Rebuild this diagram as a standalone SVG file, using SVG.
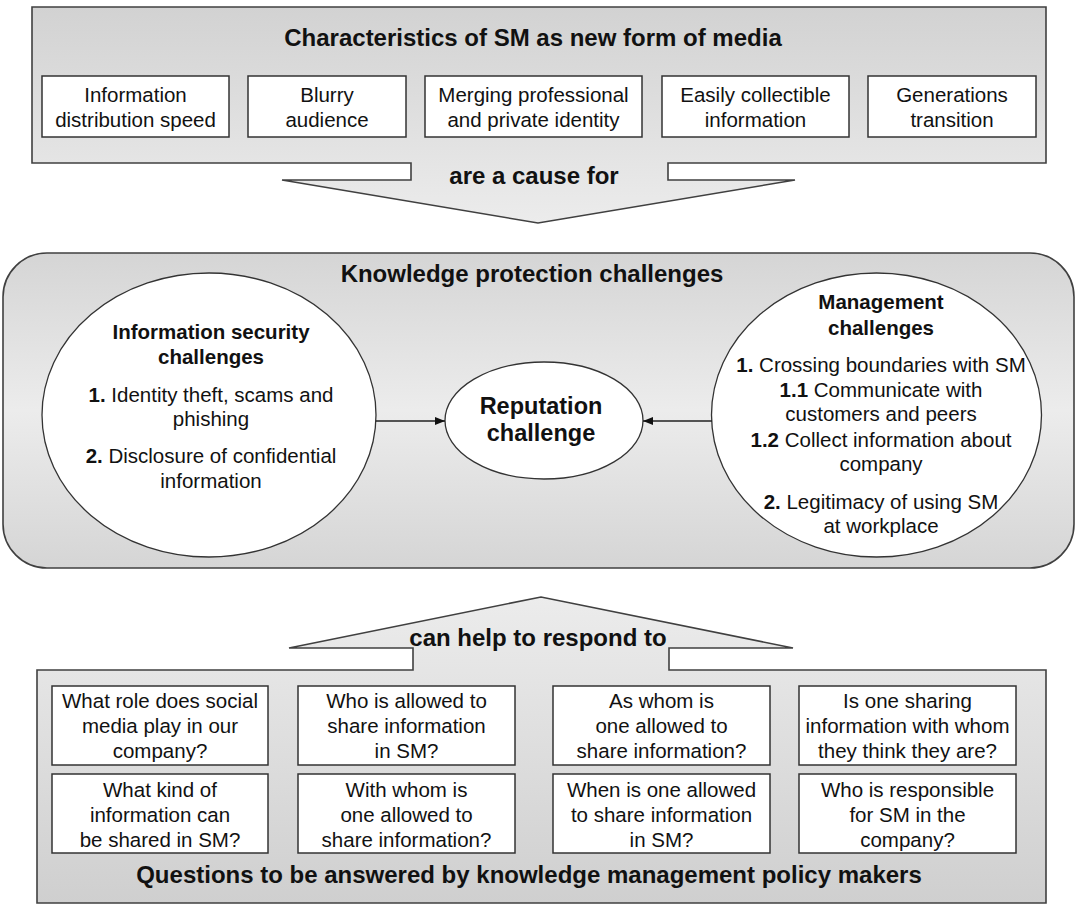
<svg xmlns="http://www.w3.org/2000/svg" width="1077" height="909" viewBox="0 0 1077 909">
<defs>
<linearGradient id="gTop" gradientUnits="userSpaceOnUse" x1="0" y1="7" x2="0" y2="223"><stop offset="0" stop-color="#d2d2d2"/><stop offset="1" stop-color="#ececec"/></linearGradient>
<linearGradient id="gMid" gradientUnits="userSpaceOnUse" x1="0" y1="253" x2="0" y2="568"><stop offset="0" stop-color="#d5d5d5"/><stop offset="0.5" stop-color="#ececec"/><stop offset="1" stop-color="#d5d5d5"/></linearGradient>
<linearGradient id="gBot" gradientUnits="userSpaceOnUse" x1="0" y1="597" x2="0" y2="903"><stop offset="0" stop-color="#ececec"/><stop offset="1" stop-color="#cfcfcf"/></linearGradient>
<marker id="ah" markerWidth="10" markerHeight="8" refX="10" refY="4" orient="auto" markerUnits="userSpaceOnUse"><path d="M0,0 L10,4 L0,8 Z" fill="#111"/></marker>
</defs>
<style>
.frame{stroke:#404040;stroke-width:1.6}
.box{fill:#fff;stroke:#333;stroke-width:1.5}
.ell{fill:#fff;stroke:#333;stroke-width:1.3}
text{font-family:"Liberation Sans",Arial,sans-serif;fill:#111;text-anchor:middle}
.t{font-size:20.5px}
.h{font-size:24px;font-weight:bold}
.hs{font-size:20.5px;font-weight:bold}
.rep{font-size:23.5px;font-weight:bold}
.b{font-weight:bold}
.conn{stroke:#222;stroke-width:1.4;fill:none}
</style>

<g id="characteristics">
<path class="frame" fill="url(#gTop)" d="M32,7 H1046 V163 H668 V180 H795 L538,223 L282,180 H411 V163 H32 Z"/>
<text class="h" x="533" y="46">Characteristics of SM as new form of media</text>
<text class="h" x="534" y="184">are a cause for</text>
</g>
<g id="c-speed"><rect class="box" x="42" y="76" width="187" height="61"/><text class="t" x="135.5" y="102">Information</text><text class="t" x="135.5" y="127">distribution speed</text></g>
<g id="c-audience"><rect class="box" x="248" y="76" width="158" height="61"/><text class="t" x="327" y="102">Blurry</text><text class="t" x="327" y="127">audience</text></g>
<g id="c-identity"><rect class="box" x="425" y="76" width="217" height="61"/><text class="t" x="533.5" y="102">Merging professional</text><text class="t" x="533.5" y="127">and private identity</text></g>
<g id="c-collectible"><rect class="box" x="662" y="76" width="187" height="61"/><text class="t" x="755.5" y="102">Easily collectible</text><text class="t" x="755.5" y="127">information</text></g>
<g id="c-generations"><rect class="box" x="868" y="76" width="168" height="61"/><text class="t" x="952" y="102">Generations</text><text class="t" x="952" y="127">transition</text></g>

<g id="knowledge-protection">
<rect class="frame" fill="url(#gMid)" x="3" y="253" width="1071" height="315" rx="44"/>
<text class="h" x="532" y="282">Knowledge protection challenges</text>
</g>
<g id="infosec">
<ellipse class="ell" cx="209" cy="415" rx="167" ry="142"/>
<text class="hs" x="211" y="339">Information security</text>
<text class="hs" x="211" y="364">challenges</text>
<text class="t" x="211" y="402"><tspan class="b">1.</tspan> Identity theft, scams and</text>
<text class="t" x="211" y="426">phishing</text>
<text class="t" x="211" y="463"><tspan class="b">2.</tspan> Disclosure of confidential</text>
<text class="t" x="211" y="488">information</text>
</g>
<g id="reputation">
<ellipse class="ell" cx="544" cy="420.5" rx="99" ry="58.5"/>
<text class="rep" x="541" y="414">Reputation</text>
<text class="rep" x="541" y="441">challenge</text>
</g>
<g id="management">
<ellipse class="ell" cx="876.5" cy="415" rx="165" ry="142"/>
<text class="hs" x="881" y="309">Management</text>
<text class="hs" x="881" y="335">challenges</text>
<text class="t" x="881" y="372"><tspan class="b">1.</tspan> Crossing boundaries with SM</text>
<text class="t" x="881" y="397"><tspan class="b">1.1</tspan> Communicate with</text>
<text class="t" x="881" y="421">customers and peers</text>
<text class="t" x="881" y="447"><tspan class="b">1.2</tspan> Collect information about</text>
<text class="t" x="881" y="471">company</text>
<text class="t" x="881" y="509"><tspan class="b">2.</tspan> Legitimacy of using SM</text>
<text class="t" x="881" y="533">at workplace</text>
</g>

<g id="connectors">
<line class="conn" x1="376" y1="421" x2="445" y2="421" marker-end="url(#ah)"/>
<line class="conn" x1="712" y1="421" x2="643" y2="421" marker-end="url(#ah)"/>
</g>

<g id="questions">
<path class="frame" fill="url(#gBot)" d="M37,670 H413 V648 H289 L541,597 L793,648 H669 V670 H1046 V903 H37 Z"/>
<text class="h" x="538" y="646">can help to respond to</text>
<text class="h" x="529" y="883">Questions to be answered by knowledge management policy makers</text>
</g>
<g id="q1"><rect class="box" x="52" y="686" width="216" height="79"/><text class="t" x="160" y="708">What role does social</text><text class="t" x="160" y="733">media play in our</text><text class="t" x="160" y="758">company?</text></g>
<g id="q2"><rect class="box" x="298" y="686" width="217" height="79"/><text class="t" x="406.5" y="708">Who is allowed to</text><text class="t" x="406.5" y="733">share information</text><text class="t" x="406.5" y="758">in SM?</text></g>
<g id="q3"><rect class="box" x="553" y="686" width="217" height="79"/><text class="t" x="661.5" y="708">As whom is</text><text class="t" x="661.5" y="733">one allowed to</text><text class="t" x="661.5" y="758">share information?</text></g>
<g id="q4"><rect class="box" x="799" y="686" width="217" height="79"/><text class="t" x="907.5" y="708">Is one sharing</text><text class="t" x="907.5" y="733">information with whom</text><text class="t" x="907.5" y="758">they think they are?</text></g>
<g id="q5"><rect class="box" x="52" y="774" width="216" height="79"/><text class="t" x="160" y="797">What kind of</text><text class="t" x="160" y="822">information can</text><text class="t" x="160" y="847">be shared in SM?</text></g>
<g id="q6"><rect class="box" x="298" y="774" width="217" height="79"/><text class="t" x="406.5" y="797">With whom is</text><text class="t" x="406.5" y="822">one allowed to</text><text class="t" x="406.5" y="847">share information?</text></g>
<g id="q7"><rect class="box" x="553" y="774" width="217" height="79"/><text class="t" x="661.5" y="797">When is one allowed</text><text class="t" x="661.5" y="822">to share information</text><text class="t" x="661.5" y="847">in SM?</text></g>
<g id="q8"><rect class="box" x="799" y="774" width="217" height="79"/><text class="t" x="907.5" y="797">Who is responsible</text><text class="t" x="907.5" y="822">for SM in the</text><text class="t" x="907.5" y="847">company?</text></g>
</svg>
